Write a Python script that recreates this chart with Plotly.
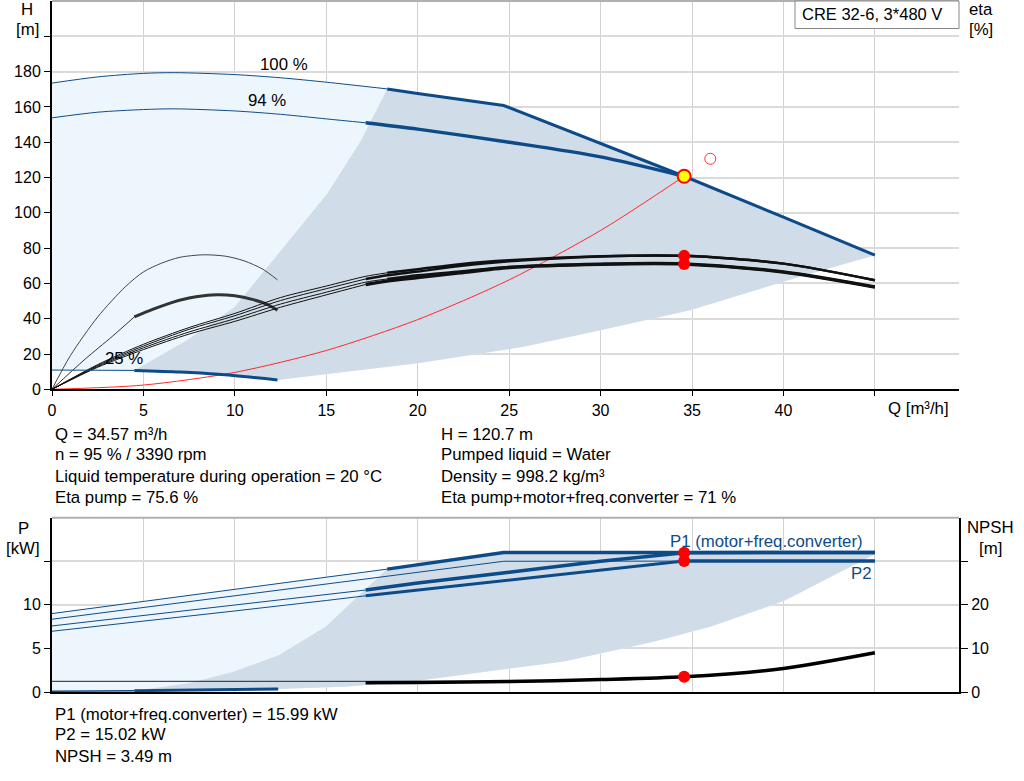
import plotly.graph_objects as go

# ---------------- data: top chart (H / eta vs Q) ----------------
q_h100 = [0, 2.5, 5, 6.7, 10, 12.5, 15, 18.33, 20, 24.7, 30, 34.57, 40, 45]
h_h100 = [173.5, 177, 179, 179.4, 178.3, 176.5, 174, 170.2, 167.6, 160.8, 139.3, 120.7, 97.5, 76]
q_h94 = [0, 2.5, 5, 6.7, 10, 12.5, 15, 17.15, 20, 25, 30, 34.57]
h_h94 = [153.8, 157, 158.5, 158.9, 157.7, 155.8, 153.2, 151, 147.4, 140, 131.7, 120.7]
q_h25 = [0, 4.5, 7, 9.1, 12.33]
h_h25 = [10.9, 10.7, 9.8, 8.5, 5.3]

q_hmin = [4.5, 7.4, 10, 12.3, 15.05, 16.9, 18.33]
h_hmin = [10.7, 27.9, 46.7, 76, 110.8, 141, 170.2]
q_hlow = [12.33, 15, 20, 25.8, 30, 34.9, 40.8, 45]
h_hlow = [5.3, 8.5, 14.7, 24.1, 33.5, 44.8, 63.5, 76]

q_sys = [0, 5, 10, 15, 20, 25, 30, 34.57]
h_sys = [0, 2.4, 9.6, 22, 39.5, 62, 90, 120.7]

q_eta = [0, 2.5, 5, 7.5, 10, 12.5, 15, 17.15, 18.33, 20, 22.3, 25, 30, 34.57, 40, 45]
eta_pump_100 = [0, 14, 25.5, 35, 43, 52, 58.5, 64, 66, 68, 70.9, 73.1, 75.4, 75.6, 71.2, 61.8]
eta_pump_95 = [0, 13.5, 24.5, 34, 41.7, 50.3, 57, 62.5, 64.6, 66.7, 69.8, 72.5, 75.3, 75.6, 71.2, 61.8]
eta_tot_100 = [0, 13, 23.5, 32.5, 40, 48.3, 55, 60.7, 62.5, 64.6, 66.7, 69.3, 70.9, 71, 66.5, 58]
eta_tot_95 = [0, 12.5, 22.5, 31.3, 38.5, 46.5, 53.5, 59.4, 61.3, 63.3, 66, 69, 70.9, 71, 66.5, 58]

q_arc1 = [0, 1, 2.5, 4, 5, 6, 7, 8.3, 9.5, 10.5, 11.5, 12.33]
eta_arc1 = [0, 19, 41, 58, 66.5, 71.5, 74.8, 76.2, 75.4, 72.8, 68.2, 62]
q_arc2 = [0, 1.8, 3.3, 4.5, 5.5, 6.5, 7.5, 8.3, 9.05, 10, 11, 11.8, 12.33]
eta_arc2 = [0, 17, 30, 41, 45.3, 49, 51.7, 53, 53.6, 53, 50.8, 48, 44.8]

q_duty, h_duty = 34.57, 120.7
eta_duty = [75.6, 71]
q_open, h_open = 36.0, 130.6

# ---------------- data: bottom chart (P / NPSH vs Q) ----------------
q_p1_100 = [0, 5, 10, 15, 18.33, 24.7, 34.57, 45]
p_p1_100 = [9.0, 10.4, 11.8, 13.2, 14.1, 16.0, 16.0, 16.0]
q_p2_100 = [0, 5, 10, 15, 20, 24.7, 34.57, 45]
p_p2_100 = [8.35, 9.7, 11.0, 12.4, 13.7, 15.0, 15.02, 15.02]
q_p1_94 = [0, 5, 10, 15, 17.15, 20, 25, 30, 34.57, 45]
p_p1_94 = [7.58, 8.8, 10.0, 11.2, 11.7, 12.5, 13.75, 15.0, 15.99, 16.0]
q_p2_94 = [0, 5, 10, 15, 17.15, 20, 25, 30, 34.57, 45]
p_p2_94 = [6.97, 8.1, 9.3, 10.5, 11.04, 11.7, 12.85, 13.95, 15.02, 15.02]
q_p25 = [0, 4.5, 8, 12.37]
p_p25 = [0.1, 0.15, 0.25, 0.35]

q_pmin = [4.5, 7.4, 9.87, 12.4, 14.96, 16.5, 18.33]
p_pmin = [0.15, 0.97, 2.3, 4.23, 7.5, 10.5, 14.1]
q_plow = [12.37, 16, 20, 24.5, 28, 32.9, 36, 40, 45]
p_plow = [0.35, 0.6, 1.3, 2.5, 3.5, 5.77, 7.5, 10.4, 15.8]

q_npsh_flat = [0, 17.15, 25]
npsh_flat = [2.45, 2.45, 2.45]
q_npsh = [17.15, 20, 25, 30, 34.57, 40, 45]
npsh = [2.1, 2.2, 2.4, 2.85, 3.49, 5.4, 9.0]

p_duty = [15.99, 15.02]
npsh_duty = 3.49

x_ticks = [0, 5, 10, 15, 20, 25, 30, 35, 40]
h_ticks = [0, 20, 40, 60, 80, 100, 120, 140, 160, 180, 200]
eta_ticks = [0, 20, 40, 60, 80, 100]
p_ticks = [0, 5, 10, 15]
npsh_ticks = [0, 10, 20, 30]

# ---------------- styling ----------------
BLUE = '#0d4b88'
LIGHT = '#eef6fd'
DARK = '#d0dce8'
FONT = 'Liberation Sans, Arial, sans-serif'
TS = 16.8   # text size
KS = 16     # tick label size
W, H = 1024, 781
ML, MR, MT, MB = 52, 65, 1, 89
PW, PH = W - ML - MR, H - MT - MB


def px(xp):
    return (xp - ML) / PW


def py(yp):
    return (H - MB - yp) / PH


def seg(q, v, lo, hi):
    pts = [(a, b) for a, b in zip(q, v) if lo <= a <= hi]
    return [a for a, _ in pts], [b for _, b in pts]


fig = go.Figure()


def line(q, v, color, width, xa='x', ya='y', smooth=False):
    fig.add_trace(go.Scatter(x=q, y=v, mode='lines', xaxis=xa, yaxis=ya,
                             line=dict(color=color, width=width,
                                       shape='spline' if smooth else 'linear', smoothing=0.8),
                             hoverinfo='skip', showlegend=False))


def split_line(q, v, s, color, wthin, wthick, xa='x', ya='y', smooth=(False, False)):
    a, b = seg(q, v, min(q), s)
    line(a, b, color, wthin, xa, ya, smooth[0])
    a, b = seg(q, v, s, max(q))
    line(a, b, color, wthick, xa, ya, smooth[1])


def poly(xs, ys, color, xa='x', ya='y'):
    fig.add_trace(go.Scatter(x=xs, y=ys, mode='lines', fill='toself', fillcolor=color,
                             line=dict(width=0, color=color), xaxis=xa, yaxis=ya,
                             hoverinfo='skip', showlegend=False))


S2 = (True, True)

# ----- top regions -----
poly(q_h100 + q_hlow[::-1] + q_h25[::-1], h_h100 + h_hlow[::-1] + h_h25[::-1], LIGHT)
h25_mid = [(a, b) for a, b in zip(q_h25[::-1], h_h25[::-1]) if q_hmin[0] < a < q_hlow[0]]
h100_right = [(a, b) for a, b in zip(q_h100, h_h100) if a > q_hmin[-1]]
poly(q_hmin + [a for a, _ in h100_right] + q_hlow[::-1] + [a for a, _ in h25_mid],
     h_hmin + [b for _, b in h100_right] + h_hlow[::-1] + [b for _, b in h25_mid], DARK)

# ----- top curves -----
line(q_sys, h_sys, '#ff2a2a', 1, smooth=True)
line(q_arc1, eta_arc1, '#444444', 1, smooth=True)
split_line(q_arc2, eta_arc2, 4.5, '#333333', 1, 3, smooth=S2)
split_line(q_eta, eta_tot_95, 17.15, '#111111', 1, 3.5, smooth=S2)
split_line(q_eta, eta_tot_100, 18.33, '#111111', 1, 2.5, smooth=S2)
split_line(q_eta, eta_pump_95, 17.15, '#111111', 1, 2.5, smooth=S2)
split_line(q_eta, eta_pump_100, 18.33, '#111111', 1, 2.5, smooth=S2)
split_line(q_h25, h_h25, 4.5, BLUE, 1, 3, smooth=S2)
split_line(q_h94, h_h94, 17.15, BLUE, 1, 3.5, smooth=S2)
split_line(q_h100, h_h100, 18.33, BLUE, 1, 3, smooth=(True, False))

fig.add_trace(go.Scatter(x=[q_duty] * len(eta_duty), y=eta_duty, mode='markers',
                         marker=dict(color='#ff0000', size=12), hoverinfo='skip', showlegend=False))
fig.add_trace(go.Scatter(x=[q_open], y=[h_open], mode='markers',
                         marker=dict(color='rgba(0,0,0,0)', size=11, line=dict(color='#ff3030', width=1)),
                         hoverinfo='skip', showlegend=False))
fig.add_trace(go.Scatter(x=[q_duty], y=[h_duty], mode='markers',
                         marker=dict(color='#ffff00', size=13, line=dict(color='#ff0000', width=2)),
                         hoverinfo='skip', showlegend=False))

# ----- bottom regions -----
poly(q_p1_100 + q_plow[::-1] + q_p25[::-1], p_p1_100 + p_plow[::-1] + p_p25[::-1], LIGHT, 'x2', 'y3')
p25_mid = [(a, b) for a, b in zip(q_p25[::-1], p_p25[::-1]) if q_pmin[0] < a < q_plow[0]]
p1_right = [(a, b) for a, b in zip(q_p1_100, p_p1_100) if a > q_pmin[-1]]
poly(q_pmin + [a for a, _ in p1_right] + q_plow[::-1] + [a for a, _ in p25_mid],
     p_pmin + [b for _, b in p1_right] + p_plow[::-1] + [b for _, b in p25_mid], DARK, 'x2', 'y3')

# ----- bottom curves -----
split_line(q_p25, p_p25, 4.5, BLUE, 1.5, 3, 'x2', 'y3')
split_line(q_p2_100, p_p2_100, 34.57, BLUE, 1, 3, 'x2', 'y3')
split_line(q_p2_94, p_p2_94, 17.15, BLUE, 1, 3, 'x2', 'y3')
split_line(q_p1_94, p_p1_94, 17.15, BLUE, 1, 3.5, 'x2', 'y3')
split_line(q_p1_100, p_p1_100, 18.33, BLUE, 1, 3.5, 'x2', 'y3')
line(q_npsh_flat, npsh_flat, '#222222', 1, 'x2', 'y4')
line(q_npsh, npsh, '#000000', 3.5, 'x2', 'y4', smooth=True)

fig.add_trace(go.Scatter(x=[q_duty] * len(p_duty), y=p_duty, mode='markers', xaxis='x2', yaxis='y3',
                         marker=dict(color='#ff0000', size=12), hoverinfo='skip', showlegend=False))
fig.add_trace(go.Scatter(x=[q_duty], y=[npsh_duty], mode='markers', xaxis='x2', yaxis='y4',
                         marker=dict(color='#ff0000', size=12), hoverinfo='skip', showlegend=False))

# ----- axes -----
top_dom = [py(389.3), 1]
bot_dom = [0, py(517.7)]
QMAX = 49.6
axis_common = dict(showline=True, linecolor='black', linewidth=2, zeroline=False,
                   tickfont=dict(family=FONT, size=KS, color='black'))
fig.update_layout(
    width=W, height=H, margin=dict(l=ML, r=MR, t=MT, b=MB),
    paper_bgcolor='white', plot_bgcolor='white', showlegend=False,
    font=dict(family=FONT, size=TS, color='black'),
    xaxis=dict(range=[0, QMAX], domain=[0, 1], anchor='y', tickvals=x_ticks + [45],
               ticktext=[str(t) for t in x_ticks] + [''], ticks='outside', ticklen=5, tickcolor='black',
               showgrid=True, gridcolor='#d2d2d2', gridwidth=1, **axis_common),
    yaxis=dict(range=[0, 220], domain=top_dom, anchor='x', tickvals=h_ticks,
               ticktext=[str(t) for t in h_ticks[:-1]] + [''], ticks='outside', ticklen=6,
               tickcolor='black', showgrid=True, gridcolor='#dadada', gridwidth=2, **axis_common),
    yaxis2=dict(range=[0, 220], overlaying='y', side='right', anchor='x', tickvals=eta_ticks,
                ticks='outside', ticklen=7, tickcolor='black', showgrid=False, **axis_common),
    xaxis2=dict(range=[0, QMAX], domain=[0, 1], anchor='y3', tickvals=x_ticks[1:] + [45],
                showticklabels=False, ticks='', showgrid=True, gridcolor='#d2d2d2', gridwidth=1,
                **axis_common),
    yaxis3=dict(range=[0, 20], domain=bot_dom, anchor='x2', tickvals=p_ticks,
                ticktext=[str(t) for t in p_ticks[:-1]] + [''], ticks='outside', ticklen=6,
                tickcolor='black', showgrid=True, gridcolor='#dadada', gridwidth=2, **axis_common),
    yaxis4=dict(range=[0, 40], overlaying='y3', side='right', anchor='x2', tickvals=npsh_ticks,
                ticktext=[str(t) for t in npsh_ticks[:-1]] + [''], ticks='outside', ticklen=7,
                tickcolor='black', showgrid=False, **axis_common),
)

# borders on top of each plot area
fig.add_shape(type='line', xref='paper', yref='paper', x0=0, x1=1, y0=1, y1=1,
              line=dict(color='#b0b0b0', width=2))
fig.add_shape(type='line', xref='paper', yref='paper', x0=0, x1=1, y0=bot_dom[1], y1=bot_dom[1],
              line=dict(color='#b0b0b0', width=2))
# model box
fig.add_shape(type='rect', xref='paper', yref='paper', x0=px(795), x1=1, y0=py(28.5), y1=1,
              line=dict(color='#888888', width=1), fillcolor='white')


def ann(text, xp, yp, xanchor='left', color='black', size=TS):
    fig.add_annotation(text=text, x=px(xp), y=py(yp), xref='paper', yref='paper', showarrow=False,
                       xanchor=xanchor, yanchor='middle', font=dict(family=FONT, size=size, color=color))


ann('CRE 32-6, 3*480 V', 800, 14, size=16.5)
ann('H', 27, 9, 'center')
ann('[m]', 27, 29, 'center')
ann('eta', 981, 10, 'center')
ann('[%]', 981, 30, 'center')
ann('Q [m³/h]', 918, 408, 'center')
ann('P', 23, 528, 'center')
ann('[kW]', 23, 548, 'center')
ann('NPSH', 990, 527, 'center')
ann('[m]', 990, 548, 'center')

left_info = ['Q = 34.57 m³/h', 'n = 95 % / 3390 rpm',
             'Liquid temperature during operation = 20 °C', 'Eta pump = 75.6 %']
right_info = ['H = 120.7 m', 'Pumped liquid = Water', 'Density = 998.2 kg/m³',
              'Eta pump+motor+freq.converter = 71 %']
info_y = [434, 455, 476, 497]
for t, y in zip(left_info, info_y):
    ann(t, 53, y)
for t, y in zip(right_info, info_y):
    ann(t, 439, y)
bottom_info = ['P1 (motor+freq.converter) = 15.99 kW', 'P2 = 15.02 kW', 'NPSH = 3.49 m']
for t, y in zip(bottom_info, [714, 735, 756]):
    ann(t, 53, y)

# curve labels (data coordinates)
fig.add_annotation(text='100 %', x=12.7, y=184.3, xref='x', yref='y', showarrow=False,
                   font=dict(family=FONT, size=TS, color='black'))
fig.add_annotation(text='94 %', x=11.76, y=163.6, xref='x', yref='y', showarrow=False,
                   font=dict(family=FONT, size=TS, color='black'))
fig.add_annotation(text='25 %', x=3.95, y=17.5, xref='x', yref='y', showarrow=False,
                   font=dict(family=FONT, size=TS, color='black'))
fig.add_annotation(text='P1 (motor+freq.converter)', x=39.1, y=17.25, xref='x2', yref='y3',
                   showarrow=False, font=dict(family=FONT, size=TS, color=BLUE))
fig.add_annotation(text='P2', x=44.25, y=13.6, xref='x2', yref='y3', showarrow=False,
                   font=dict(family=FONT, size=TS, color=BLUE))

fig.write_html('out.html', config={'displayModeBar': False},
               post_script="document.body.style.margin='0';document.body.style.padding='0';")
